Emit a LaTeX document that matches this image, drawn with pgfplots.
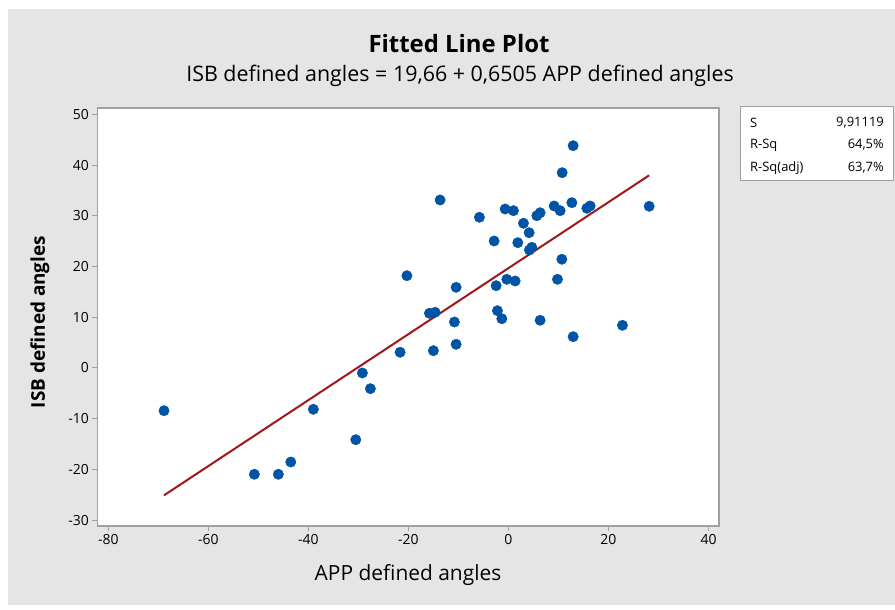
\documentclass[border=0pt]{standalone}
\usepackage{pgfplots}
\pgfplotsset{compat=1.18}
\usepackage{fontspec}
\setmainfont{Open Sans}
\definecolor{bg}{RGB}{229,229,229}
\definecolor{axc}{RGB}{160,160,160}
\definecolor{ptc}{RGB}{0,84,166}
\definecolor{fitc}{RGB}{160,24,24}
\begin{document}
\begin{tikzpicture}
\fill[white] (0,0) rectangle (895bp,610bp);
\fill[bg] (8bp,5bp) rectangle (895bp,601bp);
% titles
\node[font=\fontsize{24}{24}\selectfont\bfseries] at (459bp,610bp-44bp) {Fitted Line Plot};
\node[font=\fontsize{21.5}{21.5}\selectfont] at (460bp,610bp-76bp) {ISB defined angles = 19,66 + 0,6505 APP defined angles};
\node[font=\fontsize{21}{21}\selectfont] at (408bp,610bp-575bp) {APP defined angles};
\node[font=\fontsize{19}{19}\selectfont\bfseries, rotate=90] at (40bp,610bp-322bp) {ISB defined angles};
% stats box
\draw[axc, fill=white, line width=1bp] (740bp,610bp-181bp) rectangle (893bp,610bp-107bp);
\begin{scope}[every node/.style={font=\fontsize{13}{13}\selectfont, inner sep=0pt}]
\node[anchor=west] at (750bp,610bp-123bp) {S};
\node[anchor=west] at (750bp,610bp-145bp) {R-Sq};
\node[anchor=west] at (750bp,610bp-168bp) {R-Sq(adj)};
\node[anchor=east] at (884bp,610bp-123bp) {9,91119};
\node[anchor=east] at (884bp,610bp-145bp) {64,5\%};
\node[anchor=east] at (884bp,610bp-168bp) {63,7\%};
\end{scope}
\begin{axis}[
  at={(97.3bp,84bp)}, anchor=south west, scale only axis,
  width=621.7bp, height=418bp,
  xmin=-82.2, xmax=42.1, ymin=-31.18, ymax=51.25,
  axis line style={axc, line width=1.5bp},
  axis background/.style={fill=white},
  xtick={-80,-60,-40,-20,0,20,40},
  ytick={-30,-20,-10,0,10,20,30,40,50},
  tick align=outside, xtick pos=bottom, ytick pos=left,
  major tick length=5bp,
  tick style={axc, line width=1bp},
  ticklabel style={font=\fontsize{14}{14}\selectfont},
  /pgf/number format/assume math mode=true,
]
\addplot[fitc, line width=2bp] coordinates {(-68.86,-25.13) (28.14,37.97)};
\addplot[only marks, mark=*, mark size=5.2bp, mark options={fill=ptc, draw=ptc}] coordinates {
(-68.86,-8.44) (-50.8,-20.98) (-46.0,-20.98) (-43.52,-18.56) (-39.0,-8.16)
(-30.52,-14.16) (-29.2,-1.0) (-27.6,-4.1) (-21.66,3.08) (-20.3,18.18)
(-15.8,10.77) (-14.66,10.96) (-15.0,3.39) (-13.66,33.11) (-10.46,15.89)
(-10.8,9.05) (-10.46,4.65) (-5.8,29.7) (-2.86,25.02) (-2.46,16.21)
(-2.2,11.28) (-1.32,9.7) (-0.66,31.33) (-0.32,17.47) (1.0,31.0)
(1.34,17.14) (1.88,24.69) (3.0,28.52) (4.14,26.66) (4.2,23.25)
(4.68,23.78) (5.68,30.01) (6.34,30.6) (6.34,9.39) (9.14,31.93)
(10.34,31.0) (9.8,17.47) (10.74,38.49) (10.68,21.42) (12.68,32.58)
(12.94,43.82) (12.94,6.15) (15.68,31.47) (16.34,31.93) (22.8,8.4)
(28.14,31.87)
};
\end{axis}
\end{tikzpicture}
\end{document}
